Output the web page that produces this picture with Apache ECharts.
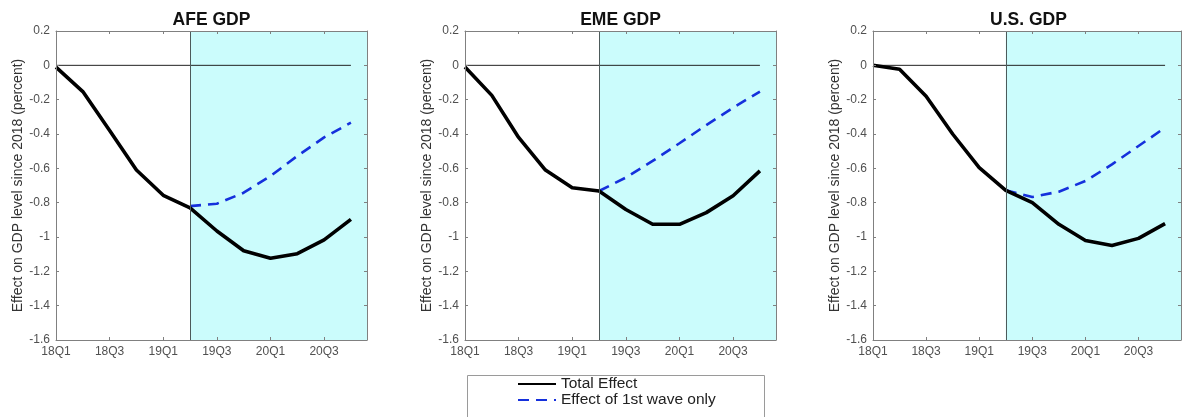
<!DOCTYPE html>
<html>
<head>
<meta charset="utf-8">
<script src="https://cdn.jsdelivr.net/npm/echarts@6/dist/echarts.min.js"></script>
<style>
html,body{margin:0;padding:0;background:#fff;}
#chart{width:1184px;height:417px;}
</style>
</head>
<body>
<div id="chart"></div>
<script>
// ---- data ----
const quarters = ['18Q1','18Q2','18Q3','18Q4','19Q1','19Q2','19Q3','19Q4','20Q1','20Q2','20Q3','20Q4'];
const panelTitles = ['AFE GDP', 'EME GDP', 'U.S. GDP'];
const yTicks = [0.2, 0, -0.2, -0.4, -0.6, -0.8, -1, -1.2, -1.4, -1.6];
const shockStartIndex = 5; // 19Q2: start of shaded period and 1st-wave series
const afeTotal = [-0.01, -0.153, -0.38, -0.61, -0.757, -0.83, -0.965, -1.08, -1.124, -1.097, -1.017, -0.897];
const afeFirstWave = [-0.82, -0.806, -0.742, -0.645, -0.528, -0.42, -0.334];
const emeTotal = [-0.01, -0.175, -0.42, -0.61, -0.713, -0.732, -0.84, -0.926, -0.926, -0.858, -0.76, -0.615];
const emeFirstWave = [-0.732, -0.654, -0.557, -0.454, -0.348, -0.247, -0.153];
const usTotal = [0, -0.023, -0.18, -0.40, -0.596, -0.728, -0.80, -0.926, -1.02, -1.049, -1.008, -0.922];
const usFirstWave = [-0.728, -0.767, -0.736, -0.674, -0.577, -0.47, -0.363];
const legendNames = ['Total Effect', 'Effect of 1st wave only'];
const yAxisTitle = 'Effect on GDP level since 2018 (percent)';

// ---- layout / style ----
const totals = [afeTotal, emeTotal, usTotal];
const waves = [afeFirstWave, emeFirstWave, usFirstWave];
const gridLefts = [56, 465, 873];
const gridTop = 31, gridW = 311, gridH = 309;
const xMax = 11.6;
const FONT = '"Liberation Sans", Arial, sans-serif';
const boxColor = '#808080';
const labelColor = '#505050';

const chart = echarts.init(document.getElementById('chart'), null, {renderer: 'canvas'});

const grids = [], xAxes = [], yAxes = [], series = [], titles = [];
const yMin = Math.min(...yTicks), yMax = Math.max(...yTicks);

for (let p = 0; p < 3; p++) {
  grids.push({left: gridLefts[p], top: gridTop, width: gridW, height: gridH, containLabel: false});
  titles.push({
    text: panelTitles[p], left: gridLefts[p] + gridW / 2, top: 11, padding: 0, textAlign: 'center',
    textStyle: {fontFamily: FONT, fontWeight: 'bold', fontSize: 17.5, color: '#111'}
  });
  const common = {gridIndex: p, z: 5};
  xAxes.push(Object.assign({
    type: 'value', position: 'bottom', min: 0, max: xMax, interval: 2,
    axisLine: {show: true, onZero: false, lineStyle: {color: boxColor, width: 1}},
    axisTick: {show: true, inside: true, length: 3, lineStyle: {color: boxColor}},
    splitLine: {show: false},
    axisLabel: {
      margin: 6, color: labelColor, fontFamily: FONT, fontSize: 12,
      formatter: v => (Number.isInteger(v) && quarters[v] !== undefined) ? quarters[v] : ''
    }
  }, common));
  xAxes.push(Object.assign({
    type: 'value', position: 'top', min: 0, max: xMax, interval: 2,
    axisLine: {show: true, onZero: false, lineStyle: {color: boxColor, width: 1}},
    axisTick: {show: true, inside: true, length: 3, lineStyle: {color: boxColor}},
    splitLine: {show: false}, axisLabel: {show: false}
  }, common));
  yAxes.push(Object.assign({
    type: 'value', position: 'left', min: yMin, max: yMax, interval: 0.2,
    name: yAxisTitle, nameLocation: 'middle', nameGap: 31, nameRotate: 90,
    nameTextStyle: {fontFamily: FONT, fontSize: 14, color: '#333'},
    axisLine: {show: true, onZero: false, lineStyle: {color: boxColor, width: 1}},
    axisTick: {show: true, inside: true, length: 3, lineStyle: {color: boxColor}},
    splitLine: {show: false},
    axisLabel: {
      margin: 6, color: labelColor, fontFamily: FONT, fontSize: 12,
      formatter: v => String(+(+v).toFixed(1))
    }
  }, common));
  yAxes.push(Object.assign({
    type: 'value', position: 'right', min: yMin, max: yMax, interval: 0.2,
    axisLine: {show: true, onZero: false, lineStyle: {color: boxColor, width: 1}},
    axisTick: {show: true, inside: true, length: 3, lineStyle: {color: boxColor}},
    splitLine: {show: false}, axisLabel: {show: false}
  }, common));

  const xi = 2 * p, yi = 2 * p;
  // zero line + shading + vertical marker
  series.push({
    type: 'line', name: 'zero', xAxisIndex: xi, yAxisIndex: yi, silent: true,
    symbol: 'none', data: [[0, 0], [quarters.length - 1, 0]],
    lineStyle: {color: '#222', width: 1}, z: 2,
    markArea: {
      silent: true, itemStyle: {color: '#cbfcfc'},
      data: [[{xAxis: shockStartIndex}, {xAxis: xMax}]]
    },
    markLine: {
      silent: true, symbol: 'none', label: {show: false},
      lineStyle: {color: '#4d5a5a', width: 1, type: 'solid'},
      data: [{xAxis: shockStartIndex}]
    }
  });
  series.push({
    type: 'line', name: legendNames[1], xAxisIndex: xi, yAxisIndex: yi,
    symbol: 'none', data: waves[p].map((v, i) => [shockStartIndex + i, v]),
    lineStyle: {color: '#1530dc', width: 2.6, type: [11, 7]}, itemStyle: {color: '#1530dc'}, z: 3
  });
  series.push({
    type: 'line', name: legendNames[0], xAxisIndex: xi, yAxisIndex: yi,
    symbol: 'none', data: totals[p].map((v, i) => [i, v]),
    lineStyle: {color: '#000', width: 3.6, join: 'round'}, itemStyle: {color: '#000'}, z: 4
  });
}

chart.setOption({
  animation: false,
  backgroundColor: '#fff',
  title: titles,
  grid: grids,
  xAxis: xAxes,
  yAxis: yAxes,
  legend: {
    data: legendNames, orient: 'vertical', left: 517, top: 376, padding: 0,
    itemWidth: 38, itemHeight: 12, itemGap: 0,
    itemStyle: {opacity: 0},
    textStyle: {fontFamily: FONT, fontSize: 15.5, lineHeight: 16, color: '#222'},
    selectedMode: false
  },
  graphic: [{
    type: 'rect', silent: true, z: -1,
    shape: {x: 467.5, y: 375.5, width: 297, height: 60},
    style: {fill: '#fff', stroke: '#9a9a9a', lineWidth: 1}
  }],
  series: series
});
</script>
</body>
</html>
